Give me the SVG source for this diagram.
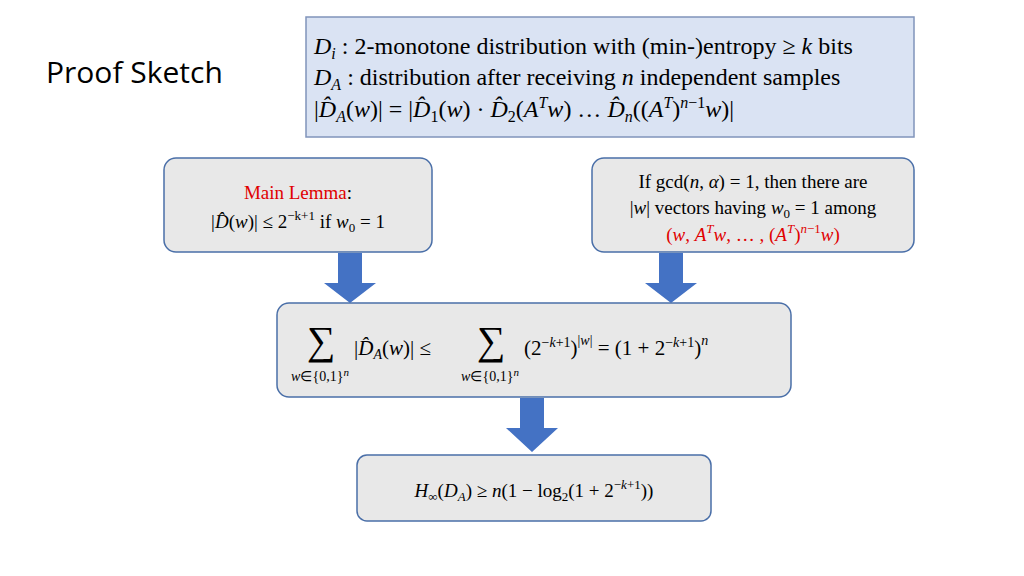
<svg xmlns="http://www.w3.org/2000/svg" width="1024" height="576" viewBox="0 0 1024 576">
<style>
.t{font-family:"Liberation Serif",serif;fill:#000}
.i{font-style:italic}
.box{fill:#e8e8e8;stroke:#4a6fa8;stroke-width:1.5}
.arr{fill:#4472c4}
.red{fill:#e00000}
</style>
<rect width="1024" height="576" fill="#fff"/>
<text x="46" y="83" font-family="Open Sans, sans-serif" font-size="30" fill="#000">Proof Sketch</text>
<g id="defs-box">
<rect x="306" y="17" width="608" height="120" fill="#dae3f3" stroke="#8094bb" stroke-width="1.5"/>
<text class="t" font-size="24" x="314" y="54"><tspan class="i">D</tspan><tspan class="i" font-size="16" dy="5">i</tspan><tspan dy="-5"> : 2-monotone distribution with (min-)entropy ≥ </tspan><tspan class="i">k</tspan> bits</text>
<text class="t" font-size="24" x="314" y="85"><tspan class="i">D</tspan><tspan class="i" font-size="16" dy="5">A</tspan><tspan dy="-5"> : distribution after receiving </tspan><tspan class="i">n</tspan> independent samples</text>
<text class="t" font-size="24" x="314" y="117">|<tspan class="i">D̂</tspan><tspan class="i" font-size="16" dy="5">A</tspan><tspan dy="-5">(</tspan><tspan class="i">w</tspan>)| = |<tspan class="i">D̂</tspan><tspan font-size="16" dy="5">1</tspan><tspan dy="-5">(</tspan><tspan class="i">w</tspan>) · <tspan class="i">D̂</tspan><tspan font-size="16" dy="5">2</tspan><tspan dy="-5">(</tspan><tspan class="i">A</tspan><tspan class="i" font-size="16" dy="-9">T</tspan><tspan class="i" dy="9">w</tspan>) … <tspan class="i">D̂</tspan><tspan class="i" font-size="16" dy="5">n</tspan><tspan dy="-5">((</tspan><tspan class="i">A</tspan><tspan class="i" font-size="16" dy="-9">T</tspan><tspan dy="9">)</tspan><tspan font-size="16" dy="-9"><tspan class="i">n</tspan>−1</tspan><tspan class="i" dy="9">w</tspan>)|</text>
</g>
<g id="connectors">
<path class="arr" d="M338,253 H362 V283 H376 L350,303 L324,283 H338 Z"/>
<path class="arr" d="M659,253 H683 V283 H697 L671,303 L645,283 H659 Z"/>
<path class="arr" d="M520,398 H544 V428 H558 L532,452 L506,428 H520 Z"/>
</g>
<g id="lemma">
<rect class="box" x="164" y="158" width="268" height="94" rx="12"/>
<text class="t" font-size="19" x="298" y="199" text-anchor="middle"><tspan class="red">Main Lemma</tspan>:</text>
<text class="t" font-size="19" x="298" y="228" text-anchor="middle">|<tspan class="i">D̂</tspan>(<tspan class="i">w</tspan>)| ≤ 2<tspan font-size="13" dy="-8">−k+1</tspan><tspan dy="8"> if </tspan><tspan class="i">w</tspan><tspan font-size="13" dy="4">0</tspan><tspan dy="-4"> = 1</tspan></text>
</g>
<g id="gcd">
<rect class="box" x="592" y="158" width="322" height="94" rx="12"/>
<text class="t" font-size="19" x="753" y="188" text-anchor="middle">If gcd(<tspan class="i">n</tspan>, <tspan class="i">α</tspan>) = 1, then there are</text>
<text class="t" font-size="19" x="753" y="214" text-anchor="middle">|<tspan class="i">w</tspan>| vectors having <tspan class="i">w</tspan><tspan font-size="13" dy="4">0</tspan><tspan dy="-4"> = 1 among</tspan></text>
<text class="t red" font-size="19" x="753" y="241" text-anchor="middle">(<tspan class="i">w</tspan>, <tspan class="i">A</tspan><tspan class="i" font-size="13" dy="-8">T</tspan><tspan class="i" dy="8">w</tspan>, … , (<tspan class="i">A</tspan><tspan class="i" font-size="13" dy="-8">T</tspan><tspan dy="8">)</tspan><tspan font-size="13" dy="-8"><tspan class="i">n</tspan>−1</tspan><tspan class="i" dy="8">w</tspan>)</text>
</g>
<g id="sum">
<rect class="box" x="277" y="303" width="514" height="94" rx="12"/>
<text class="t" font-size="40" x="321" y="354" text-anchor="middle">∑</text>
<text class="t" font-size="14" x="320" y="381" text-anchor="middle"><tspan class="i">w</tspan>∈{0,1}<tspan class="i" font-size="11" dy="-5">n</tspan></text>
<text class="t" font-size="21" x="354" y="355">|<tspan class="i">D̂</tspan><tspan class="i" font-size="14" dy="4">A</tspan><tspan dy="-4">(</tspan><tspan class="i">w</tspan>)| ≤</text>
<text class="t" font-size="40" x="491" y="354" text-anchor="middle">∑</text>
<text class="t" font-size="14" x="490" y="381" text-anchor="middle"><tspan class="i">w</tspan>∈{0,1}<tspan class="i" font-size="11" dy="-5">n</tspan></text>
<text class="t" font-size="21" x="524" y="355">(2<tspan font-size="14" dy="-8">−<tspan class="i">k</tspan>+1</tspan><tspan dy="8">)</tspan><tspan font-size="14" dy="-10">|<tspan class="i">w</tspan>|</tspan><tspan dy="10"> = (1 + 2</tspan><tspan font-size="14" dy="-8">−<tspan class="i">k</tspan>+1</tspan><tspan dy="8">)</tspan><tspan class="i" font-size="14" dy="-10">n</tspan></text>
</g>
<g id="entropy">
<rect class="box" x="357" y="455" width="354" height="66" rx="10"/>
<text class="t" font-size="19" x="534" y="497" text-anchor="middle"><tspan class="i">H</tspan><tspan font-size="13" dy="4">∞</tspan><tspan dy="-4">(</tspan><tspan class="i">D</tspan><tspan class="i" font-size="13" dy="4">A</tspan><tspan dy="-4">) ≥ </tspan><tspan class="i">n</tspan>(1 − log<tspan font-size="13" dy="4">2</tspan><tspan dy="-4">(1 + 2</tspan><tspan font-size="13" dy="-8">−<tspan class="i">k</tspan>+1</tspan><tspan dy="8">))</tspan></text>
</g>
</svg>
